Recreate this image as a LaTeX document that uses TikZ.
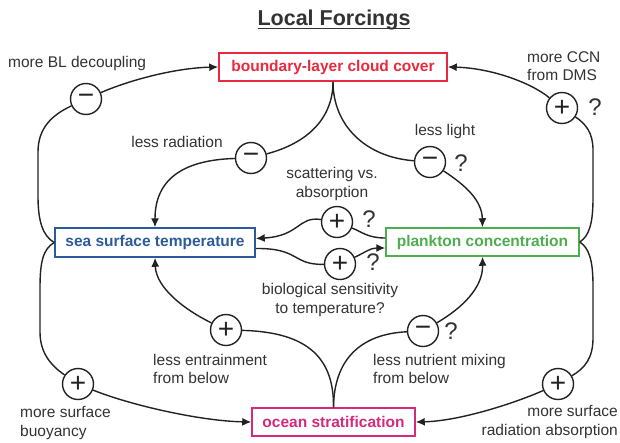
\documentclass[tikz,border=0pt]{standalone}
\usepackage{fontspec}
\setmainfont{Liberation Sans}
\usetikzlibrary{arrows.meta,calc}
\definecolor{cred}{HTML}{E8293F}
\definecolor{cblue}{HTML}{2C5B9C}
\definecolor{cgreen}{HTML}{4DAE4F}
\definecolor{cmag}{HTML}{D42A7C}
\definecolor{ink}{HTML}{222222}
\definecolor{txt}{HTML}{333333}
\newcommand\thickul[1]{\setbox0\hbox{#1}\rlap{\vrule width\wd0 height -2.6pt depth 4.1pt}\box0}
\begin{document}
\begin{tikzpicture}[x=1pt,y=-1pt,
 box/.style={draw, line width=1.5pt, inner sep=0pt, minimum height=28pt, font=\fontsize{15.5}{18}\selectfont\bfseries},
 sgn/.style={circle, draw=ink, line width=1.4pt, minimum size=31pt, inner sep=0pt, text=ink, font=\fontsize{28}{30}\selectfont},
 lbl/.style={inner sep=0pt, text=txt, font=\fontsize{15.5}{18.5}\selectfont},
 qm/.style={inner sep=0pt, text=txt, font=\fontsize{24}{26}\selectfont},
 conn/.style={draw=ink, line width=1.4pt},
 arr/.style={conn, -{Latex[length=9pt,width=8pt]}},
]
\useasboundingbox (0,0) rectangle (620,442);
\fill[white] (0,0) rectangle (620,442);

% title
\node[inner sep=0pt, text=txt, font=\fontsize{21.5}{24}\selectfont\bfseries, anchor=base] (title) at (334,25) {\thickul{Local Forcings}};

% boxes
\node[box, draw=cred, text=cred, minimum width=228pt] (bl) at (333,67) {boundary-layer cloud cover};
\node[box, draw=cblue, text=cblue, minimum width=200pt, minimum height=29pt] (sst) at (155,242.5) {sea surface temperature};
\node[box, draw=cgreen, text=cgreen, minimum width=193pt] (pl) at (482.5,242) {plankton concentration};
\node[box, draw=cmag, text=cmag, minimum width=163pt] (os) at (333.5,422) {ocean stratification};

% sign circles
\node[sgn] (c1) at (86,99) {−};
\node[sgn] (c2) at (251,158) {−};
\node[sgn] (c3) at (430,162) {−};
\node[sgn] (c4) at (562,108) {+};
\node[sgn] (c5) at (337,222) {+};
\node[sgn] (c6) at (340,264) {+};
\node[sgn] (c7) at (226,330) {+};
\node[sgn] (c8) at (423,331) {−};
\node[sgn] (c9) at (78,384) {+};
\node[sgn] (c10) at (558,384) {+};

% question marks
\node[qm] (q3) at (461,163) {?};
\node[qm] (q4) at (595,107) {?};
\node[qm] (q5) at (369,219) {?};
\node[qm] (q6) at (373,262) {?};
\node[qm] (q8) at (451,331) {?};

% labels
\node[lbl, anchor=west] (l1) at (8,63) {more BL decoupling};
\node[lbl, anchor=west, align=left] (l2) at (527,66) {more CCN\\from DMS};
\node[lbl] (l3) at (177,142) {less radiation};
\node[lbl] (l4) at (445,131) {less light};
\node[lbl, align=center] (l5) at (332,184) {scattering vs.\\absorption};
\node[lbl, align=center] (l6) at (330,300) {biological sensitivity\\to temperature?};
\node[lbl, anchor=west, align=left] (l7) at (153,369) {less entrainment\\from below};
\node[lbl, anchor=west, align=left] (l8) at (373,369) {less nutrient mixing\\from below};
\node[lbl, anchor=west, align=left] (l9) at (20,423) {more surface\\buoyancy};
\node[lbl, anchor=east, align=right] (l10) at (618,422) {more surface\\radiation absorption};

% SST -> cloud cover (BL decoupling)
\draw[conn] (sst.west) .. controls (43,236) and (38,222) .. (38,196) -- (38,152) .. controls (38,128) and (52,115) .. (c1);
\draw[arr] (c1) .. controls (130,80) and (175,68) .. (bl.west);
% SST -> stratification (buoyancy)
\draw[conn] (sst.west) .. controls (43,249) and (40,262) .. (40,288) -- (40,332) .. controls (40,352) and (50,365) .. (c9);
\draw[arr] (c9) .. controls (130,405) and (200,421) .. (os.west);
% plankton -> cloud cover (CCN)
\draw[conn] (pl.east) .. controls (589,236) and (593,224) .. (593,198) -- (593,150) .. controls (593,133) and (586,124) .. (c4);
\draw[arr] (c4) .. controls (530,82) and (490,68) .. (bl.east);
% plankton -> stratification (radiation absorption)
\draw[conn] (pl.east) .. controls (589,248) and (593,260) .. (593,286) -- (593,338) .. controls (593,358) and (585,368) .. (c10);
\draw[arr] (c10) .. controls (515,403) and (460,421) .. (os.east);
% cloud cover -> SST (less radiation)
\draw[conn] (bl.south) .. controls (333,118) and (308,143) .. (c2);
\draw[arr] (c2) .. controls (182,160) and (155,180) .. (sst.north);
% cloud cover -> plankton (less light)
\draw[conn] (bl.south) .. controls (333,125) and (365,157) .. (c3);
\draw[arr] (c3) .. controls (465,185) and (482,200) .. (pl.north);
% stratification -> SST (entrainment)
\draw[conn] (os.north) .. controls (334,360) and (310,332) .. (c7);
\draw[arr] (c7) .. controls (185,310) and (156,288) .. (sst.south);
% stratification -> plankton (nutrient mixing)
\draw[conn] (os.north) .. controls (334,360) and (360,334) .. (c8);
\draw[arr] (c8) .. controls (462,308) and (483,288) .. (pl.south);
% plankton -> SST (scattering vs absorption)
\draw[conn] ([yshift=4pt]pl.west) .. controls (368,238) and (362,232) .. (c5);
\draw[arr] (c5) .. controls (298,216) and (300,236) .. ([yshift=4pt]sst.east);
% SST -> plankton (biological sensitivity)
\draw[conn] ([yshift=-6pt]sst.east) .. controls (300,248) and (292,265) .. (c6);
\draw[arr] (c6) .. controls (366,252) and (370,248) .. ([yshift=-6pt]pl.west);
\end{tikzpicture}
\end{document}
